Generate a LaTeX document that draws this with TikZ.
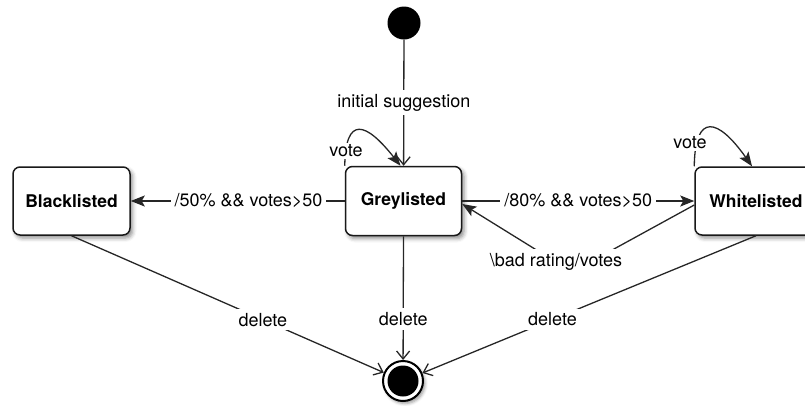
\documentclass[tikz,border=0pt]{standalone}
\usepackage{fontspec}
\setmainfont{TeX Gyre Heros}
\usetikzlibrary{arrows.meta,shadows.blur}
\begin{document}
\begin{tikzpicture}[x=1pt,y=-1pt,
  every node/.style={font=\fontsize{18}{20}\selectfont},
  state/.style={draw=black!90, line width=1.5pt, rounded corners=7pt, fill=white,
    font=\fontsize{17.5}{20}\selectfont\bfseries,
    blur shadow={shadow xshift=2.5pt, shadow yshift=-3pt, shadow blur radius=4pt, shadow opacity=45}},
  edge/.style={draw=black!85, line width=1.3pt},
  fa/.style={-{Stealth[length=14pt,width=11pt,inset=3pt]}},
  oa/.style={-{Straight Barb[length=8pt,width=13pt]}},
  lbl/.style={fill=white, inner sep=4pt}]
\useasboundingbox (0,0) rectangle (805,405);
\clip (0,0) rectangle (805,405);

% states
\node[state, minimum width=117pt, minimum height=68pt] (black) at (71.5,201) {Blacklisted};
\node[state, minimum width=116pt, minimum height=69pt] (grey) at (403.5,201) {Greylisted};
\node[state, minimum width=122pt, minimum height=68pt] (white) at (756,201) {Whitelisted};

% initial and final pseudo-states
\node[circle, fill=black, minimum size=33pt, inner sep=0pt] (init) at (404,23) {};
\node[circle, draw=black, line width=2pt, fill=white, minimum size=40pt, inner sep=0pt,
  blur shadow={shadow xshift=2pt, shadow yshift=-2.5pt, shadow blur radius=3pt, shadow opacity=40}] (final) at (403,381) {};
\node[circle, fill=black, minimum size=31pt, inner sep=0pt] (finalcore) at (final.center) {};

% transitions
\draw[edge, oa] (init) -- node[lbl] {initial suggestion} (grey);
\draw[edge, fa] (grey) -- node[lbl, pos=0.45] {/50\% \&\& votes>50} (black);
\draw[edge, fa] (grey) -- node[lbl] {/80\% \&\& votes>50} (white);

\coordinate (bend) at (572,272);
\draw[edge, fa] ([yshift=-4pt]white.west) -- (bend) -- ([yshift=-3pt]grey.east);
\node[lbl] (badlbl) at (556,262) {\textbackslash bad rating/votes};

% self loops
\draw[edge, fa] (grey.north west) .. controls (345.5,115) and (366,122) .. ([xshift=-3pt]grey.north);
\node[lbl, inner sep=1.5pt] (gvote) at (346,151) {vote};
\draw[edge, fa] (white.north west) .. controls (695,112) and (718,118) .. ([xshift=-4pt]white.north);
\node[lbl, inner sep=1.5pt] (wvote) at (690,143) {vote};

% deletions
\draw[edge, oa] (black.south) -- node[lbl, pos=0.613] {delete} (final);
\draw[edge, oa] (grey.south) -- node[lbl, pos=0.67] {delete} (final);
\draw[edge, oa] (white.south) -- node[lbl, pos=0.61] {delete} (final);
\end{tikzpicture}
\end{document}
